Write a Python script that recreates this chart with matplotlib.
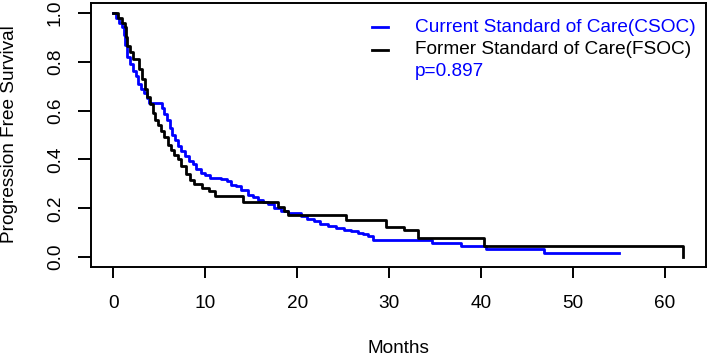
import matplotlib
matplotlib.use("Agg")
import matplotlib.pyplot as plt
from matplotlib.lines import Line2D

# ---- data ----
csoc_months = [0, 0.3, 0.6, 0.9, 1.1, 1.3, 1.5, 1.8, 2.1, 2.4, 2.7, 3.0, 3.3, 3.6, 3.9,
               5.3, 5.5, 5.8, 6.1, 6.4, 6.7, 7.0, 7.4, 7.8, 8.2, 8.6, 9.0, 9.5, 10.0,
               10.5, 11.7, 12.3, 12.8, 13.3, 13.9, 14.6, 15.2, 15.7, 16.3, 16.8, 17.5,
               18.2, 19.0, 20.4, 21.1, 21.8, 22.5, 23.3, 24.2, 25.1, 25.8, 26.6, 27.2,
               27.7, 28.2, 34.7, 37.8, 40.5, 46.9, 55.0]
csoc_surv = [1.0, 0.98, 0.96, 0.94, 0.91, 0.87, 0.82, 0.79, 0.76, 0.74, 0.71, 0.69, 0.67, 0.65, 0.63,
             0.61, 0.585, 0.56, 0.53, 0.50, 0.48, 0.455, 0.435, 0.415, 0.395, 0.38, 0.36, 0.345, 0.335,
             0.325, 0.318, 0.31, 0.297, 0.29, 0.277, 0.256, 0.245, 0.236, 0.226, 0.216, 0.20,
             0.19, 0.18, 0.168, 0.157, 0.147, 0.137, 0.127, 0.12, 0.113, 0.106, 0.10, 0.093,
             0.086, 0.07, 0.057, 0.047, 0.034, 0.018, 0.018]

fsoc_months = [0, 0.5, 0.9, 1.2, 1.4, 1.5, 1.8, 2.1, 2.8, 3.1, 3.4, 3.7, 4.0, 4.3, 4.5, 4.8,
               5.2, 5.5, 5.9, 6.3, 6.6, 7.0, 7.4, 7.9, 8.3, 8.8, 9.6, 10.4, 11.0, 14.1,
               17.9, 18.6, 19.0, 25.3, 29.7, 31.6, 33.1, 40.3, 62.0]
fsoc_surv = [1.0, 0.98, 0.96, 0.94, 0.90, 0.865, 0.84, 0.81, 0.77, 0.73, 0.69, 0.655, 0.625, 0.59, 0.56, 0.54,
             0.515, 0.49, 0.46, 0.44, 0.42, 0.40, 0.375, 0.34, 0.315, 0.30, 0.284, 0.27, 0.25, 0.225,
             0.206, 0.19, 0.172, 0.152, 0.125, 0.11, 0.079, 0.045, 0.0]

x_ticks = [0, 10, 20, 30, 40, 50, 60]
y_ticks = [0.0, 0.2, 0.4, 0.6, 0.8, 1.0]
y_tick_labels = ["0.0", "0.2", "0.4", "0.6", "0.8", "1.0"]
legend_labels = ["Current Standard of Care(CSOC)", "Former Standard of Care(FSOC)"]
p_text = "p=0.897"

BLUE = "#0000FF"
BLACK = "#000000"
FS = 13.7
LW = 2.0

plt.rcParams['font.family'] = ['Liberation Sans', 'DejaVu Sans']

W, H = 709, 357
fig = plt.figure(figsize=(W / 100, H / 100), dpi=100)
ax = fig.add_axes([90.7 / W, 1 - 267 / H, (706 - 90.7) / W, (267 - 3) / H])

ax.step(csoc_months, csoc_surv, where='post', color=BLUE, lw=LW)
ax.step(fsoc_months, fsoc_surv, where='post', color=BLACK, lw=LW)

ax.set_xlim(-2.48, 64.48)
ax.set_ylim(-0.04, 1.04)
ax.set_xticks(x_ticks)
ax.set_xticklabels([str(t) for t in x_ticks], fontsize=FS)
ax.set_yticks(y_ticks)
ax.set_yticklabels(y_tick_labels, fontsize=FS, rotation=90, va='center')
ax.tick_params(axis='x', length=8, width=1.4, pad=12)
ax.tick_params(axis='y', length=9.4, width=1.4, pad=10)
for s in ax.spines.values():
    s.set_linewidth(1.4)

ax.set_xlabel("Months", fontsize=FS)
ax.xaxis.set_label_coords(0.5, -0.2765)
ax.set_ylabel("Progression Free Survival", fontsize=FS)
ax.yaxis.set_label_coords(-0.118, 0.504)

# legend (no box), drawn in figure pixel positions
tx = 415 / W
for i, (lab, col) in enumerate(zip(legend_labels, [BLUE, BLACK])):
    yc = 1 - (27 + 23 * i) / H
    fig.text(tx, yc, lab, color=col, fontsize=FS, va='center', ha='left')
    fig.add_artist(Line2D([372 / W, 388 / W], [yc, yc], color=col, lw=LW))
fig.text(tx, 1 - 72 / H, p_text, color=BLUE, fontsize=FS, va='center', ha='left')

fig.savefig("out.png", dpi=100)
